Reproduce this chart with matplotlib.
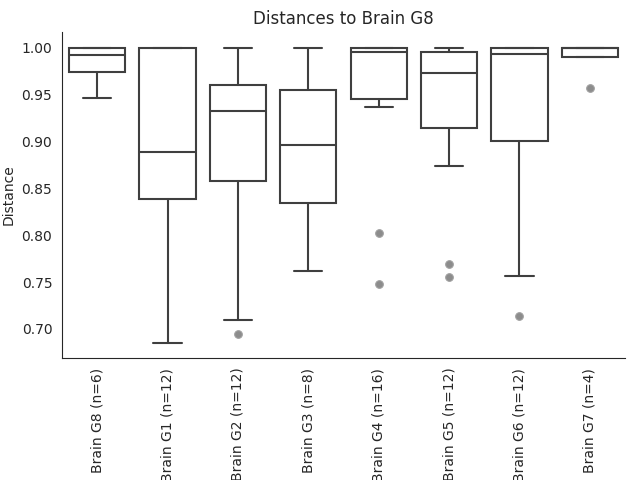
import matplotlib
matplotlib.use("Agg")
import matplotlib.pyplot as plt
import seaborn as sns

sns.set_style("white")
plt.rcParams['font.family'] = ['DejaVu Sans']

labels = ["Brain G8 (n=6)", "Brain G1 (n=12)", "Brain G2 (n=12)", "Brain G3 (n=8)",
          "Brain G4 (n=16)", "Brain G5 (n=12)", "Brain G6 (n=12)", "Brain G7 (n=4)"]
medians = [0.992, 0.889, 0.933, 0.896, 0.996, 0.973, 0.993, 1.000]
q1 = [0.974, 0.839, 0.858, 0.834, 0.946, 0.914, 0.901, 0.990]
q3 = [1.000, 1.000, 0.960, 0.955, 1.000, 0.996, 1.000, 1.000]
whislo = [0.947, 0.685, 0.710, 0.762, 0.937, 0.874, 0.757, 0.990]
whishi = [1.000, 1.000, 1.000, 1.000, 1.000, 1.000, 1.000, 1.000]
fliers = [[], [], [0.695], [], [0.802, 0.748], [0.769, 0.755], [0.714], [0.957]]

stats = []
for i in range(len(labels)):
    stats.append(dict(label=labels[i], med=medians[i], q1=q1[i], q3=q3[i],
                      whislo=whislo[i], whishi=whishi[i], fliers=fliers[i]))

fig, ax = plt.subplots(figsize=(6.4, 4.8), dpi=100)
lc = "#3f3f3f"
lw = 1.5
ax.bxp(stats, positions=range(len(labels)), widths=0.8, patch_artist=True,
       boxprops=dict(facecolor="white", edgecolor=lc, linewidth=lw),
       medianprops=dict(color=lc, linewidth=lw),
       whiskerprops=dict(color=lc, linewidth=lw),
       capprops=dict(color=lc, linewidth=lw),
       flierprops=dict(marker='o', markerfacecolor='#8c8c8c', markeredgecolor='#a0a0a0',
                       markersize=5.5, markeredgewidth=0.8, linestyle='none'))
ax.set_xlim(-0.5, len(labels) - 0.5)
ax.set_ylim(0.669, 1.017)
ax.set_xticks(range(len(labels)))
ax.set_xticklabels(labels, rotation=90)
ax.set_ylabel("Distance")
ax.set_title("Distances to Brain G8")
sns.despine(ax=ax)
fig.subplots_adjust(left=62/640, right=625/640, top=1-32/480, bottom=1-358/480)
fig.savefig("out.png")
